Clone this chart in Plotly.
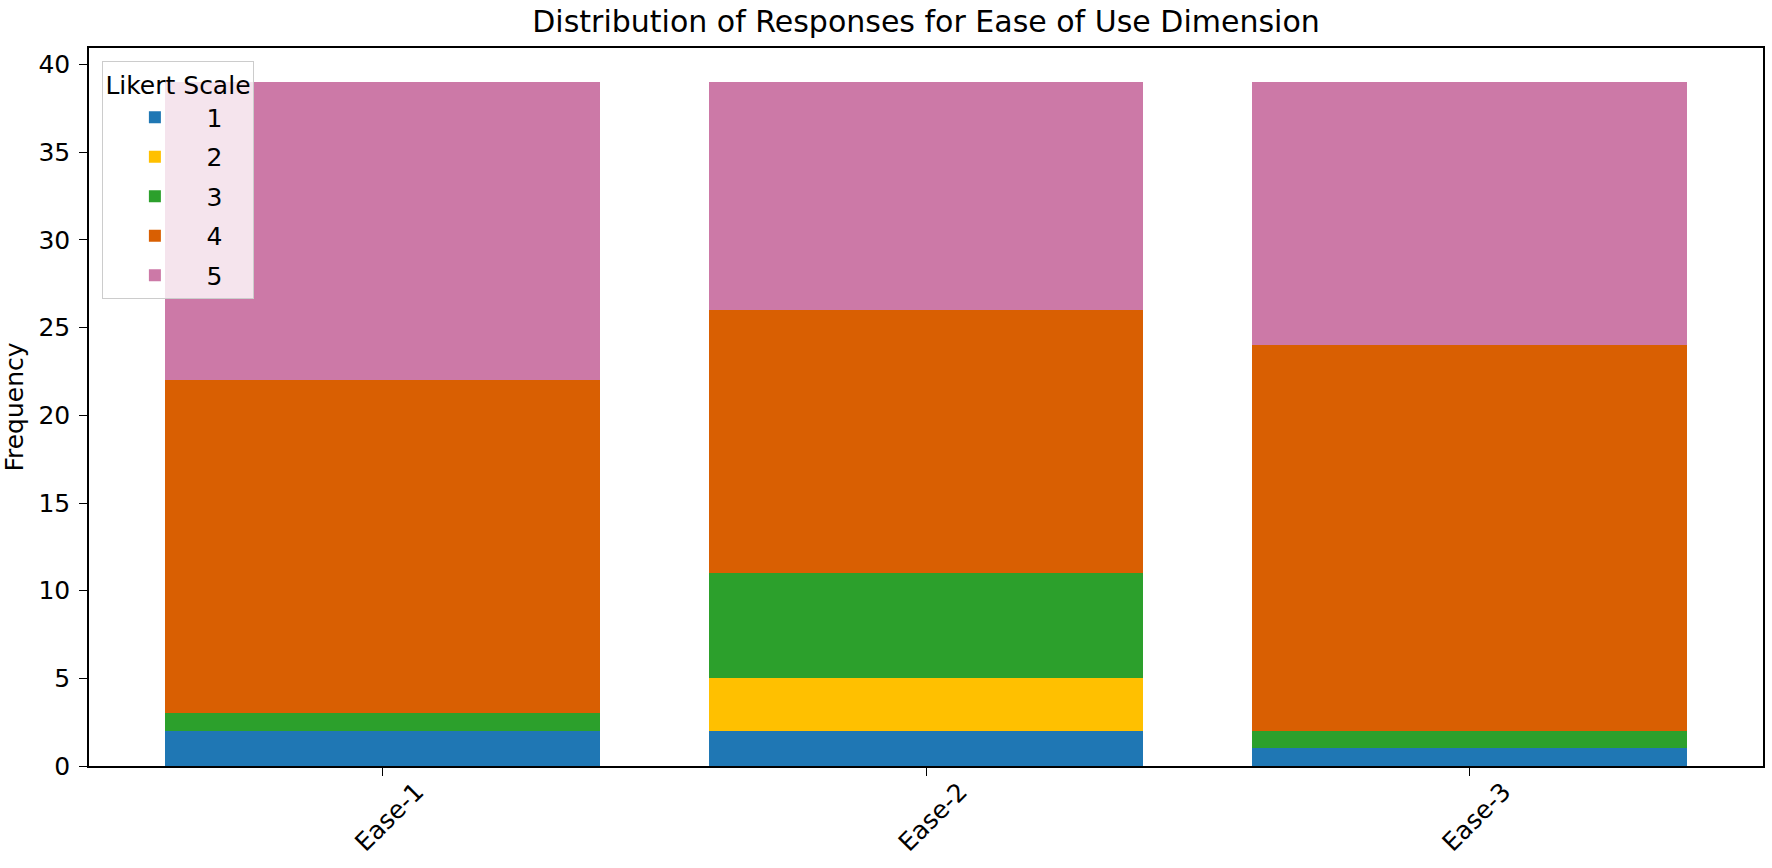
import plotly.graph_objects as go

categories = ["Ease-1", "Ease-2", "Ease-3"]
likert_levels = ["1", "2", "3", "4", "5"]
counts_1 = [2, 2, 1]
counts_2 = [0, 3, 0]
counts_3 = [1, 6, 1]
counts_4 = [19, 15, 22]
counts_5 = [17, 13, 15]
series = [counts_1, counts_2, counts_3, counts_4, counts_5]
colors = ["#1f77b4", "#FFC000", "#2ca02c", "#D95F02", "#CC79A7"]
y_ticks = [0, 5, 10, 15, 20, 25, 30, 35, 40]

FONT = "DejaVu Sans"

fig = go.Figure()
for lvl, vals, col in zip(likert_levels, series, colors):
    fig.add_trace(go.Bar(
        x=categories, y=vals, name=lvl, legendgroup=lvl,
        marker=dict(color=col, line=dict(width=0)),
    ))

fig.update_layout(
    width=1772, height=868, autosize=False,
    barmode="stack", bargap=0.2,
    plot_bgcolor="white", paper_bgcolor="white",
    margin=dict(l=89, r=9, t=48, b=102),
    font=dict(family=FONT, size=25, color="black"),
    title=dict(
        text="Distribution of Responses for Ease of Use Dimension",
        x=0.5, xref="paper", xanchor="center",
        y=1 - 21.5 / 868, yref="container", yanchor="middle",
        font=dict(family=FONT, size=30, color="black"),
    ),
    legend=dict(
        title=dict(text="Likert Scale", font=dict(size=25)),
        x=0.008, y=0.982, xanchor="left", yanchor="top",
        bgcolor="rgba(255,255,255,0.8)", bordercolor="#cccccc", borderwidth=1,
        font=dict(size=25), itemwidth=93, traceorder="grouped",
        tracegroupgap=4,
    ),
    showlegend=True,
)

fig.update_xaxes(
    type="category", range=[-0.54, 2.54], automargin=False,
    showline=True, linecolor="black", linewidth=1.6, mirror=True,
    ticks="outside", ticklen=8, tickwidth=1.4, tickcolor="black",
    tickangle=-45, ticklabelshift=34, ticklabelstandoff=-9,
    showgrid=False, zeroline=False,
    tickfont=dict(size=25),
)
fig.update_yaxes(
    range=[0, 40.95], tickvals=y_ticks, automargin=False,
    showline=True, linecolor="black", linewidth=1.6, mirror=True,
    ticks="outside", ticklen=8, tickwidth=1.4, tickcolor="black",
    ticklabelstandoff=4,
    showgrid=False, zeroline=False,
    tickfont=dict(size=25),
    title=dict(text="Frequency", standoff=10, font=dict(size=25)),
)

fig.write_html(
    "out.html",
    config={"displayModeBar": False},
    post_script="document.body.style.margin='0';document.body.style.padding='0';",
)
